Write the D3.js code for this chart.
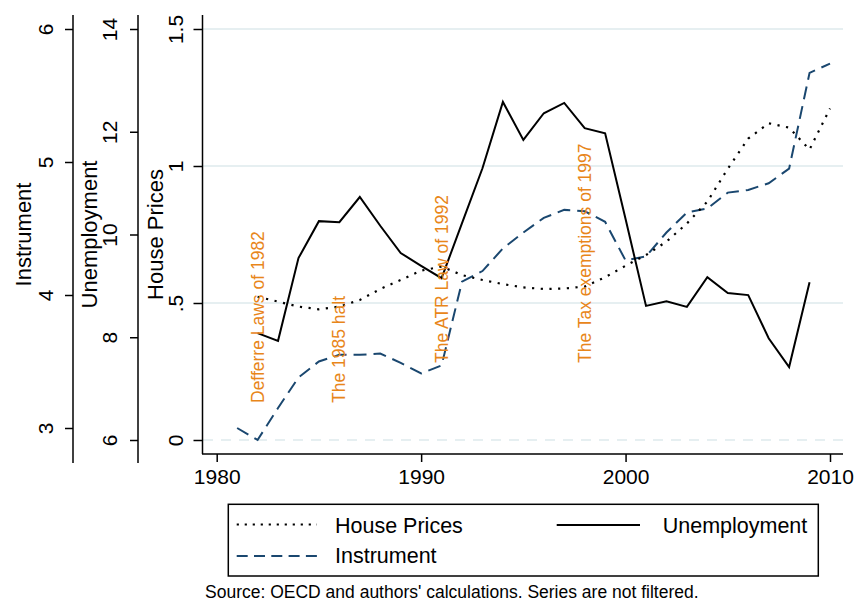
<!DOCTYPE html>
<html><head><meta charset="utf-8">
<script src="https://cdn.jsdelivr.net/npm/d3@7"></script>
<style>
body{margin:0;background:#fff}
svg{display:block}
text{font-family:"Liberation Sans",Arial,Helvetica,sans-serif}
</style>
</head><body>
<svg id="c" width="855" height="602"></svg>
<script>
// ---------------- data ----------------
const hpYears  = [1982,1983,1984,1985,1986,1987,1988,1989,1990,1991,1992,1993,1994,1995,1996,1997,1998,1999,2000,2001,2002,2003,2004,2005,2006,2007,2008,2009,2010];
const hpValues = [0.523,0.505,0.487,0.477,0.487,0.511,0.551,0.584,0.618,0.633,0.602,0.584,0.569,0.557,0.551,0.553,0.560,0.594,0.636,0.675,0.724,0.790,0.870,0.990,1.100,1.156,1.140,1.060,1.210];

const unYears  = [1982,1983,1984,1985,1986,1987,1988,1989,1990,1991,1992,1993,1994,1995,1996,1997,1998,1999,2000,2001,2002,2003,2004,2005,2006,2007,2008,2009];
const unValues = [8.08,7.93,9.54,10.26,10.24,10.73,10.17,9.64,9.39,9.15,10.22,11.29,12.58,11.84,12.36,12.56,12.07,11.97,10.30,8.61,8.70,8.59,9.17,8.86,8.82,7.98,7.42,9.07];

const instYears  = [1981,1982,1983,1984,1985,1986,1987,1988,1989,1990,1991,1992,1993,1994,1995,1996,1997,1998,1999,2000,2001,2002,2003,2004,2005,2006,2007,2008,2009,2010];
const instValues = [3.00,2.91,3.15,3.38,3.50,3.55,3.55,3.56,3.49,3.41,3.47,4.10,4.18,4.35,4.47,4.58,4.64,4.63,4.55,4.26,4.29,4.47,4.62,4.65,4.77,4.79,4.84,4.95,5.67,5.74];

const xTicks = [1980,1990,2000,2010];
const hpTicks = [0,0.5,1,1.5];
const hpTickLabels = ["0",".5","1","1.5"];
const unTicks = [6,8,10,12,14];
const instTicks = [3,4,5,6];

const annotTexts = ["Defferre Laws of 1982","The 1985 halt","The ATR Law of 1992","The Tax exemptions of 1997"];
const annotYears = [1982,1986,1991,1998];
const annotHP    = [0.135,0.135,0.281,0.281];

const seriesNames = ["House Prices","Unemployment","Instrument"];
const axisTitles = ["Instrument","Unemployment","House Prices"];
const sourceNote = "Source: OECD and authors' calculations. Series are not filtered.";

// ---------------- layout ----------------
const navy = "#1a476f", orange = "#e8861a", gridCol = "#e6eff1";
const svg = d3.select("#c");
const plotL = 203, plotR = 843, plotT = 15, plotB = 454;

const x = d3.scaleLinear().domain([1980,2010]).range([216.7,830]);
const yHP = d3.scaleLinear().domain([0,1.5]).range([440,29]);
const yUN = d3.scaleLinear().domain([6,14]).range([440,29]);
const yIN = d3.scaleLinear().domain([3,6]).range([428,29]);

// grid
const grid = svg.append("g");
hpTicks.forEach(t => {
  grid.append("line").attr("x1",plotL).attr("x2",plotR).attr("y1",yHP(t)).attr("y2",yHP(t))
    .attr("stroke",gridCol).attr("stroke-width",2)
    .attr("stroke-dasharray", t===0 ? "10,8" : null);
});

// y axes
function yAxis(scale, ax, ticks, fmt, tickLen, labelOff, lineBottom){
  const g = svg.append("g").attr("transform",`translate(${ax},0)`);
  g.call(d3.axisLeft(scale).tickValues(ticks).tickFormat(fmt).tickSize(tickLen).tickSizeOuter(0));
  g.select(".domain").remove();
  g.attr("font-size",21).attr("font-family",null);
  g.selectAll(".tick line").attr("stroke","#000").attr("stroke-width",1.5);
  g.selectAll(".tick text").attr("x",0).attr("dy",0).attr("fill","#000")
    .attr("text-anchor","middle").attr("transform",`translate(${-labelOff},0) rotate(-90)`);
  g.append("line").attr("x1",0).attr("x2",0).attr("y1",plotT).attr("y2",lineBottom)
    .attr("stroke","#000").attr("stroke-width",1.5);
}
yAxis(yIN, 73, instTicks, d=>String(d), 8, 20, 463);
yAxis(yUN, 138, unTicks, d=>String(d), 8, 21, 463);
yAxis(yHP, 202.5, hpTicks, (d,i)=>hpTickLabels[i], 9, 19.5, plotB);

// axis titles
[[31,axisTitles[0]],[97,axisTitles[1]],[163,axisTitles[2]]].forEach(([bx,t]) => {
  svg.append("text").attr("transform",`translate(${bx},234.5) rotate(-90)`)
    .attr("text-anchor","middle").attr("font-size",22).attr("fill","#000").text(t);
});

// x axis
const gx = svg.append("g").attr("transform",`translate(0,${plotB})`);
gx.call(d3.axisBottom(x).tickValues(xTicks).tickFormat(d=>String(d)).tickSize(8).tickSizeOuter(0));
gx.select(".domain").remove();
gx.attr("font-size",21).attr("font-family",null);
gx.selectAll(".tick line").attr("stroke","#000").attr("stroke-width",1.5);
gx.selectAll(".tick text").attr("y",29.5).attr("dy",0).attr("fill","#000");
gx.append("line").attr("x1",plotL-1).attr("x2",plotR).attr("y1",0).attr("y2",0)
  .attr("stroke","#000").attr("stroke-width",1.5);

// lines
const lineHP = d3.line().x((d,i)=>x(hpYears[i])).y(d=>yHP(d));
const lineUN = d3.line().x((d,i)=>x(unYears[i])).y(d=>yUN(d));
const lineIN = d3.line().x((d,i)=>x(instYears[i])).y(d=>yIN(d));

svg.append("path").attr("d",lineIN(instValues)).attr("fill","none").attr("stroke",navy)
  .attr("stroke-width",2).attr("stroke-dasharray","13,7");
svg.append("path").attr("d",lineHP(hpValues)).attr("fill","none").attr("stroke","#000")
  .attr("stroke-width",2.2).attr("stroke-dasharray","2.2,6.5");
svg.append("path").attr("d",lineUN(unValues)).attr("fill","none").attr("stroke","#000")
  .attr("stroke-width",2).attr("stroke-linejoin","miter");

// annotations
annotTexts.forEach((t,i) => {
  svg.append("text")
    .attr("transform",`translate(${x(annotYears[i])},${yHP(annotHP[i])}) rotate(-90)`)
    .attr("dy","0.35em").attr("text-anchor","start").attr("font-size",17.5)
    .attr("fill",orange).text(t);
});

// legend
svg.append("rect").attr("x",228.3).attr("y",504.3).attr("width",590).attr("height",71.7)
  .attr("fill","#fff").attr("stroke","#000").attr("stroke-width",1.5);
svg.append("line").attr("x1",236.7).attr("x2",317).attr("y1",524.5).attr("y2",524.5)
  .attr("stroke","#000").attr("stroke-width",2.2).attr("stroke-dasharray","2.2,5.8");
svg.append("line").attr("x1",556.7).attr("x2",640).attr("y1",525).attr("y2",525)
  .attr("stroke","#000").attr("stroke-width",2);
svg.append("line").attr("x1",236.7).attr("x2",317).attr("y1",556).attr("y2",556)
  .attr("stroke",navy).attr("stroke-width",2).attr("stroke-dasharray","11,6.3");
svg.append("text").attr("x",335).attr("y",533).attr("font-size",21.5).attr("fill","#000").text(seriesNames[0]);
svg.append("text").attr("x",662.7).attr("y",533).attr("font-size",21.5).attr("fill","#000").text(seriesNames[1]);
svg.append("text").attr("x",335).attr("y",563.3).attr("font-size",21.5).attr("fill","#000").text(seriesNames[2]);

// source
svg.append("text").attr("x",205).attr("y",598).attr("font-size",17.5).attr("fill","#000").text(sourceNote);
</script>
</body></html>
